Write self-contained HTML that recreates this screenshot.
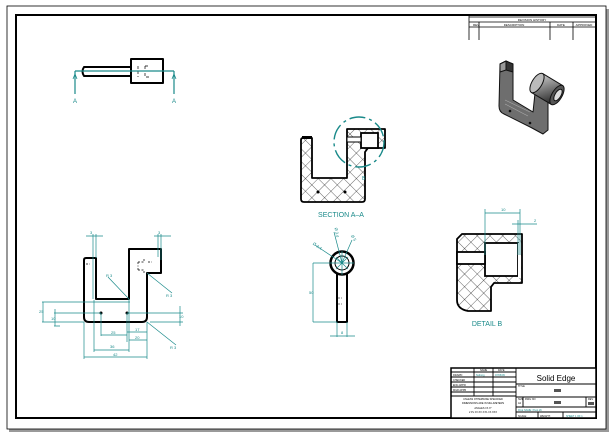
<!DOCTYPE html>
<html><head><meta charset="utf-8"><style>
html,body{margin:0;padding:0;background:#fff;}
svg{display:block;font-family:"Liberation Sans",sans-serif;}
.t{fill:#1a8a8a;font-size:4px;}
.d{stroke:#1a8a8a;stroke-width:0.7;fill:none;}
.k{stroke:#000;stroke-width:2;fill:none;stroke-linejoin:round;}
</style></head><body>
<svg width="612" height="435" viewBox="0 0 612 435" xmlns="http://www.w3.org/2000/svg">
<defs>
<pattern id="h" width="9" height="9" patternUnits="userSpaceOnUse" patternTransform="rotate(45)">
<rect width="9" height="9" fill="#fff"/>
<line x1="0" y1="0" x2="0" y2="9" stroke="#000" stroke-width="0.6"/>
<line x1="0" y1="0" x2="9" y2="0" stroke="#000" stroke-width="0.6"/>
</pattern>
<linearGradient id="g" x1="0" y1="0" x2="0.3" y2="1"><stop offset="0" stop-color="#ddd"/><stop offset="0.5" stop-color="#888"/><stop offset="1" stop-color="#333"/></linearGradient>
</defs>
<rect x="0" y="0" width="612" height="435" fill="#fff"/>
<rect x="9" y="9" width="600" height="423" fill="#9a9a9a"/>
<rect x="7" y="6" width="599" height="423" fill="#fff" stroke="#000" stroke-width="0.8"/>
<rect x="16" y="15" width="580" height="403" fill="none" stroke="#000" stroke-width="2"/>

<g stroke="#000" fill="none">
<path d="M469 15V40M469 17H596M469 22H596M469 27H596M479 22V40M550 22V40M573 22V40" stroke-width="0.8"/>
</g>
<text x="532" y="21" style="fill:#000;font-size:3px" text-anchor="middle">REVISION HISTORY</text>
<text x="473" y="26" style="font-size:3px">REV</text>
<text x="514" y="26" style="font-size:3px" text-anchor="middle">DESCRIPTION</text>
<text x="561" y="26" style="font-size:3px" text-anchor="middle">DATE</text>
<text x="584" y="26" style="font-size:3px" text-anchor="middle">APPROVED</text>

<g>
<path d="M84 67H131V76H84Q81 71.5 84 67Z" class="k" stroke-width="1.5"/>
<rect x="131" y="59" width="32" height="24" class="k" stroke-width="1.5"/>
<path d="M145 66H150M145 66V70M145 73V77H150M138 66V77M88 71H120" stroke="#000" stroke-width="0.7" stroke-dasharray="3 2" fill="none"/>
<path d="M75 71H174M75 71V94M174 71V94" stroke="#1a8a8a" stroke-width="1.2" fill="none"/>
<path d="M73 79L75 74L77 79M172 79L174 74L176 79" stroke="#1a8a8a" fill="none" stroke-width="0.8"/>
<text x="75" y="103" class="t" style="font-size:6px" text-anchor="middle">A</text>
<text x="174" y="103" class="t" style="font-size:6px" text-anchor="middle">A</text>
</g>

<g>
<path d="M301 140Q301 138 303 138H312V178H347V129H385V148H368L365 152V199Q365 202 362 202H304Q301 202 301 199Z" fill="url(#h)" stroke="#000" stroke-width="1.8" stroke-linejoin="round"/>
<rect x="361" y="133" width="17" height="15" fill="#fff" stroke="#000" stroke-width="1.8"/>
<rect x="347" y="137" width="14" height="5" fill="#fff" stroke="#000" stroke-width="1"/>
<rect x="302" y="136" width="10" height="3" fill="#000"/>
<circle cx="318" cy="192" r="1.5" fill="#000"/>
<circle cx="345" cy="192" r="1.5" fill="#000"/>
<circle cx="359" cy="142" r="25" fill="none" stroke="#1a8a8a" stroke-width="1.4" stroke-dasharray="16 4 3 4"/>
<text x="362" y="180" class="t" style="font-size:5px">B</text>
<text x="341" y="217" class="t" style="font-size:7px" text-anchor="middle">SECTION A–A</text>
</g>

<g stroke="#111" stroke-width="1" stroke-linejoin="round">
<path d="M500 64L506 61L513 64L513 100L533 112L535 93L548 92L548 130L543 134L532 128L504 114Q499 112 499 106Z" fill="#6e6e6e"/>
<path d="M506 61L513 64L513 72L506 70Z" fill="#333"/>
<path d="M500 64L506 61L506 70L500 72Z" fill="#999"/>
<path d="M505 100L530 112M505 104L528 116" stroke="#aaa" stroke-width="0.6"/>
<path d="M531.3 92.4L551.3 104.4L562.7 85.6L542.7 73.6Z" fill="url(#g)"/>
<ellipse cx="537" cy="83" rx="5" ry="11" transform="rotate(31 537 83)" fill="#bbb"/>
<ellipse cx="557" cy="95" rx="5" ry="11" transform="rotate(31 557 95)" fill="#555"/>
<ellipse cx="558" cy="95" rx="3" ry="6.5" transform="rotate(31 558 95)" fill="#ddd"/>
<circle cx="510" cy="111" r="0.8" fill="#000"/>
<circle cx="530" cy="123" r="0.8" fill="#000"/>
</g>

<g>
<path d="M84 260Q84 258 86 258H96V299H129V249H161V273H147V317Q147 322 142 322H89Q84 322 84 317Z" class="k"/>
<path d="M86 264H90M138 262H144V258M138 262V266M148 262H152M138 270H144V274M138 270V266" stroke="#000" stroke-width="0.7" stroke-dasharray="2 1.5" fill="none"/>
<circle cx="101" cy="313" r="1.5" fill="#000"/>
<circle cx="127" cy="313" r="1.5" fill="#000"/>
<path class="d" d="M93 234V299M96 234V258M86 236H103M158 234V257M161 234V260M154 236H171
M42 302H130M42 322H84M54 313H101M54 326H60M43 302V322M55 309V326M127 313H183M150 322H183M180 306V326
M101 313V336M127 313V342M101 335H127M129 299V352M147 322V359M127 332H147M129 340H147M94 300V352M94 350H129M84 322V359M84 357H147
M129 299L108 277M147 273L172 293M147 322L176 345"/>
<text x="90" y="234" class="t">3</text><text x="158" y="234" class="t">3</text>
<text x="39" y="313" class="t">25</text><text x="51" y="320" class="t">10</text><text x="179" y="318" class="t">10</text>
<text x="111" y="334" class="t">25</text><text x="135" y="331" class="t">17</text><text x="135" y="339" class="t">20</text>
<text x="110" y="348" class="t">36</text><text x="113" y="356" class="t">42</text>
<text x="106" y="277" class="t">R 3</text><text x="166" y="297" class="t">R 3</text><text x="170" y="349" class="t">R 3</text>
</g>

<g>
<circle cx="342" cy="263" r="11.5" fill="none" stroke="#000" stroke-width="2.5"/>
<circle cx="342" cy="263" r="7" fill="none" stroke="#000" stroke-width="1"/>
<path d="M337 274V322H347V274" class="k"/>
<path class="d" d="M342 263L315 245M342 263L334 232M342 263L352 240M330 263H354M342 251V275M336 257L348 269M348 257L336 269
M313 263V322M313 263H337M313 322H337M337 322V337M347 322V337M330 336H355"/>
<path d="M338 298H342M338 304H342" stroke="#000" stroke-width="0.6" stroke-dasharray="2 1"/>
<text x="309" y="294" class="t">50</text><text x="341" y="334" class="t">8</text>
<text x="312" y="246" class="t" transform="rotate(35 315 246)">Ø 2.4</text>
<text x="332" y="229" class="t" transform="rotate(80 334 230)">Ø 3.4</text>
<text x="349" y="237" class="t" transform="rotate(60 351 238)">Ø 5</text>
</g>

<g>
<path d="M457 239L462 234H522V283H494L491 287V311H468Q457 309 457 300Z" fill="url(#h)" stroke="#000" stroke-width="1.8" stroke-linejoin="round"/>
<rect x="485" y="243" width="33" height="33" fill="#fff" stroke="#000" stroke-width="1.8"/>
<rect x="518" y="243" width="3" height="35" fill="#fff"/>
<rect x="457" y="252" width="28" height="12" fill="#fff" stroke="#000" stroke-width="1.8"/>
<path class="d" d="M485 209V255M520 209V255M485 213H520M512 224H537M518 220V255"/>
<text x="501" y="211" class="t">10</text><text x="534" y="222" class="t">2</text>
<text x="487" y="326" class="t" style="font-size:7px" text-anchor="middle">DETAIL B</text>
</g>

<g stroke="#000" fill="none" stroke-width="0.9">
<rect x="451" y="368" width="145" height="50" fill="#fff" stroke-width="1.5"/>
<path d="M516 368V418M451 372H516M451 377H516M451 382H516M451 387H516M451 392H516M451 396H516M474 368V396M493 368V396
M516 384H596M516 397H596M516 407H596M516 412H596M523 397V407M586 397V407M538 412V418M563 412V418"/>
</g>
<g style="font-size:2.5px" fill="#000">
<text x="480" y="371">NAME</text><text x="498" y="371">DATE</text>
<text x="453" y="376">DRAWN</text><text x="476" y="376" fill="#1a8a8a">Ssiborg</text><text x="495" y="376" fill="#1a8a8a">07/06/09</text>
<text x="453" y="381">CHECKED</text><text x="453" y="386">ENG APPR</text><text x="453" y="391">MGR APPR</text>
<text x="483" y="400" text-anchor="middle">UNLESS OTHERWISE SPECIFIED</text>
<text x="483" y="404" text-anchor="middle">DIMENSIONS ARE IN MILLIMETERS</text>
<text x="483" y="409" text-anchor="middle">ANGLES ±X.X°</text>
<text x="483" y="413" text-anchor="middle">2 PL ±X.XX 3 PL ±X.XXX</text>
<text x="518" y="387">TITLE</text>
<text x="518" y="400">SIZE</text><text x="518" y="404">A2</text><text x="525" y="400">DWG NO</text>
<text x="588" y="400">REV</text>
<text x="518" y="411" fill="#1a8a8a">FILE NAME: Pivot.dft</text>
<text x="518" y="417">SCALE:</text><text x="540" y="417">WEIGHT:</text><text x="566" y="417" fill="#1a8a8a">SHEET 1 OF 1</text>
</g>
<rect x="554" y="389" width="7" height="3" fill="#555"/>
<rect x="554" y="401" width="7" height="3" fill="#555"/>
<rect x="588" y="402" width="6" height="3" fill="#555"/>
<text x="556" y="381" style="font-size:8px" text-anchor="middle" fill="#000">Solid Edge</text>
</svg>
</body></html>
